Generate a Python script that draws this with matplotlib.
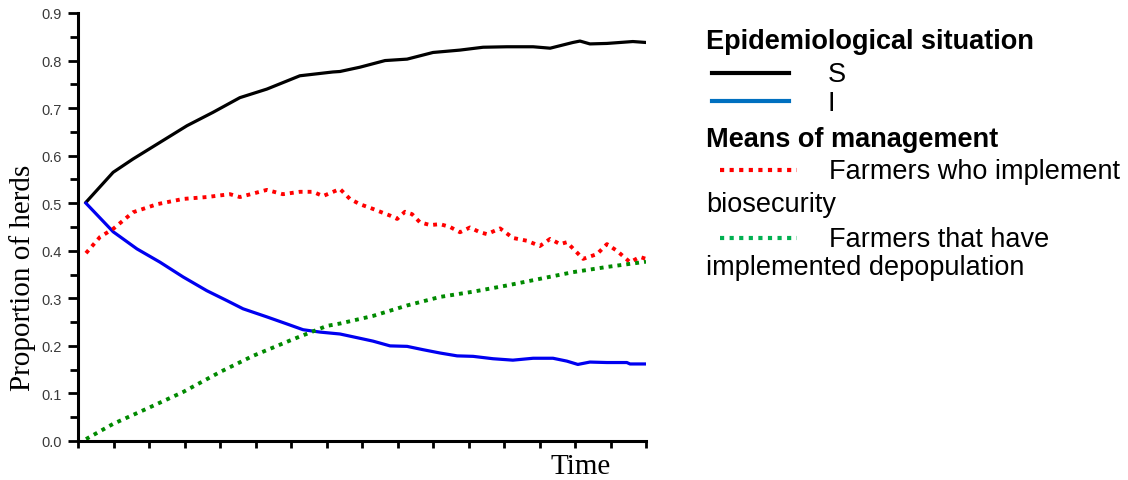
import matplotlib
matplotlib.use("Agg")
import matplotlib.pyplot as plt
from matplotlib.lines import Line2D
from matplotlib.ticker import MultipleLocator
import numpy as np

# time in tick units (16 unlabelled ticks along the axis)
t_s = [0.225, 0.99, 1.55, 2.31, 3.07, 3.80, 4.56, 5.32, 6.25, 7.18, 7.38, 7.94,
       8.65, 9.27, 10.0, 10.76, 11.41, 12.08, 12.82, 13.30, 13.94, 14.14, 14.42,
       14.90, 15.63, 16.0]
s_vals = [0.502, 0.565, 0.593, 0.628, 0.663, 0.691, 0.722, 0.740, 0.768, 0.776,
          0.777, 0.786, 0.800, 0.803, 0.817, 0.822, 0.828, 0.829, 0.829, 0.826,
          0.838, 0.841, 0.835, 0.836, 0.840, 0.838]

t_i = [0.225, 0.99, 1.66, 2.31, 2.96, 3.63, 4.20, 4.65, 5.32, 5.89, 6.34, 6.82,
       7.38, 7.94, 8.31, 8.79, 9.27, 9.72, 10.20, 10.68, 11.13, 11.69, 12.25,
       12.82, 13.38, 13.77, 14.08, 14.42, 14.90, 15.46, 15.55, 16.0]
i_vals = [0.500, 0.440, 0.404, 0.376, 0.345, 0.316, 0.295, 0.278, 0.261, 0.246,
          0.234, 0.229, 0.225, 0.216, 0.210, 0.200, 0.199, 0.192, 0.185, 0.179,
          0.178, 0.173, 0.170, 0.174, 0.174, 0.168, 0.161, 0.166, 0.165, 0.165,
          0.162, 0.162]

t_bio = [0.225, 0.62, 0.99, 1.55, 2.23, 2.96, 3.63, 4.28, 4.56, 5.32, 5.77, 6.25,
         6.62, 6.90, 7.38, 7.66, 7.94, 8.31, 8.79, 8.99, 9.21, 9.41, 9.63, 9.92,
         10.20, 10.48, 10.76, 11.04, 11.32, 11.52, 11.89, 12.25, 12.65, 13.01,
         13.30, 13.58, 13.77, 14.23, 14.62, 14.90, 15.18, 15.55, 15.83, 16.0]
bio_vals = [0.395, 0.429, 0.446, 0.481, 0.498, 0.509, 0.513, 0.519, 0.513, 0.528,
            0.519, 0.524, 0.524, 0.515, 0.530, 0.509, 0.498, 0.488, 0.474, 0.467,
            0.482, 0.477, 0.460, 0.454, 0.456, 0.450, 0.439, 0.449, 0.439, 0.435,
            0.447, 0.427, 0.421, 0.410, 0.425, 0.414, 0.418, 0.383, 0.393, 0.414,
            0.400, 0.376, 0.387, 0.383]

t_dep = [0.225, 0.99, 1.94, 2.96, 4.0, 4.93, 6.06, 7.01, 7.38, 8.31, 9.27, 10.20,
         11.13, 12.08, 13.01, 13.94, 14.90, 16.0]
dep_vals = [0.004, 0.036, 0.068, 0.103, 0.145, 0.179, 0.214, 0.242, 0.247, 0.263,
            0.285, 0.303, 0.314, 0.327, 0.341, 0.355, 0.366, 0.377]

fig = plt.figure(figsize=(11.28, 4.81), dpi=100)
ax = fig.add_axes([78 / 1128, 39 / 481, 568 / 1128, 428 / 481])

ax.plot(t_s, s_vals, color="black", lw=2.3, solid_joinstyle="round")
ax.plot(t_i, i_vals, color="#0000f0", lw=2.3, solid_joinstyle="round")
ax.plot(t_bio, bio_vals, color="#ff0000", lw=2.8, dashes=(1, 1.3))
ax.plot(t_dep, dep_vals, color="#008a00", lw=2.8, dashes=(1, 1.3))

ax.set_xlim(0, 16)
ax.set_ylim(0, 0.9)
for side in ("top", "right"):
    ax.spines[side].set_visible(False)
for side in ("left", "bottom"):
    ax.spines[side].set_linewidth(2.2)

ax.xaxis.set_major_locator(MultipleLocator(1))
ax.tick_params(axis="x", length=5, width=2, labelbottom=False)
ax.yaxis.set_major_locator(MultipleLocator(0.1))
ax.yaxis.set_minor_locator(MultipleLocator(0.05))
ax.yaxis.set_major_formatter(plt.FormatStrFormatter("%.1f"))
ax.tick_params(axis="y", which="major", length=7.5, width=2, pad=4,
               labelsize=10.5, labelcolor="#3a3a3a")
ax.tick_params(axis="y", which="minor", length=6, width=2)
for lab in ax.get_yticklabels():
    lab.set_family("Liberation Sans")


# legend drawn by hand on the right side
def fy(py):
    return 1 - py / 481

def fx(px):
    return px / 1128

# axis titles sit off-centre in the original
fig.text(fx(23), fy(278), "Proportion of herds", family="Liberation Serif",
         fontsize=21, rotation=90, ha="center", va="center")
fig.text(fx(581), fy(467), "Time", family="Liberation Serif",
         fontsize=21, ha="center", va="center")

lkw = dict(family="Liberation Sans", fontsize=19.5, va="center", ha="left")
fig.text(fx(706), fy(42), "Epidemiological situation", weight="bold", **lkw)
fig.add_artist(Line2D([fx(712), fx(789)], [fy(74), fy(74)], color="black", lw=3))
fig.text(fx(828), fy(75), "S", **lkw)
fig.add_artist(Line2D([fx(712), fx(789)], [fy(102), fy(102)], color="#0070c0", lw=3))
fig.text(fx(828), fy(104), "I", **lkw)
fig.text(fx(706), fy(140), "Means of management", weight="bold", **lkw)
fig.add_artist(Line2D([fx(720), fx(797)], [fy(171), fy(171)], color="#ff0000",
                      lw=3, dashes=(1, 1.3)))
fig.text(fx(829), fy(172), "Farmers who implement", **lkw)
fig.text(fx(706), fy(205), "biosecurity", **lkw)
fig.add_artist(Line2D([fx(720), fx(797)], [fy(239), fy(239)], color="#00b050",
                      lw=3, dashes=(1, 1.3)))
fig.text(fx(829), fy(240), "Farmers that have", **lkw)
fig.text(fx(706), fy(268), "implemented depopulation", **lkw)

fig.savefig("out.png", dpi=100)
